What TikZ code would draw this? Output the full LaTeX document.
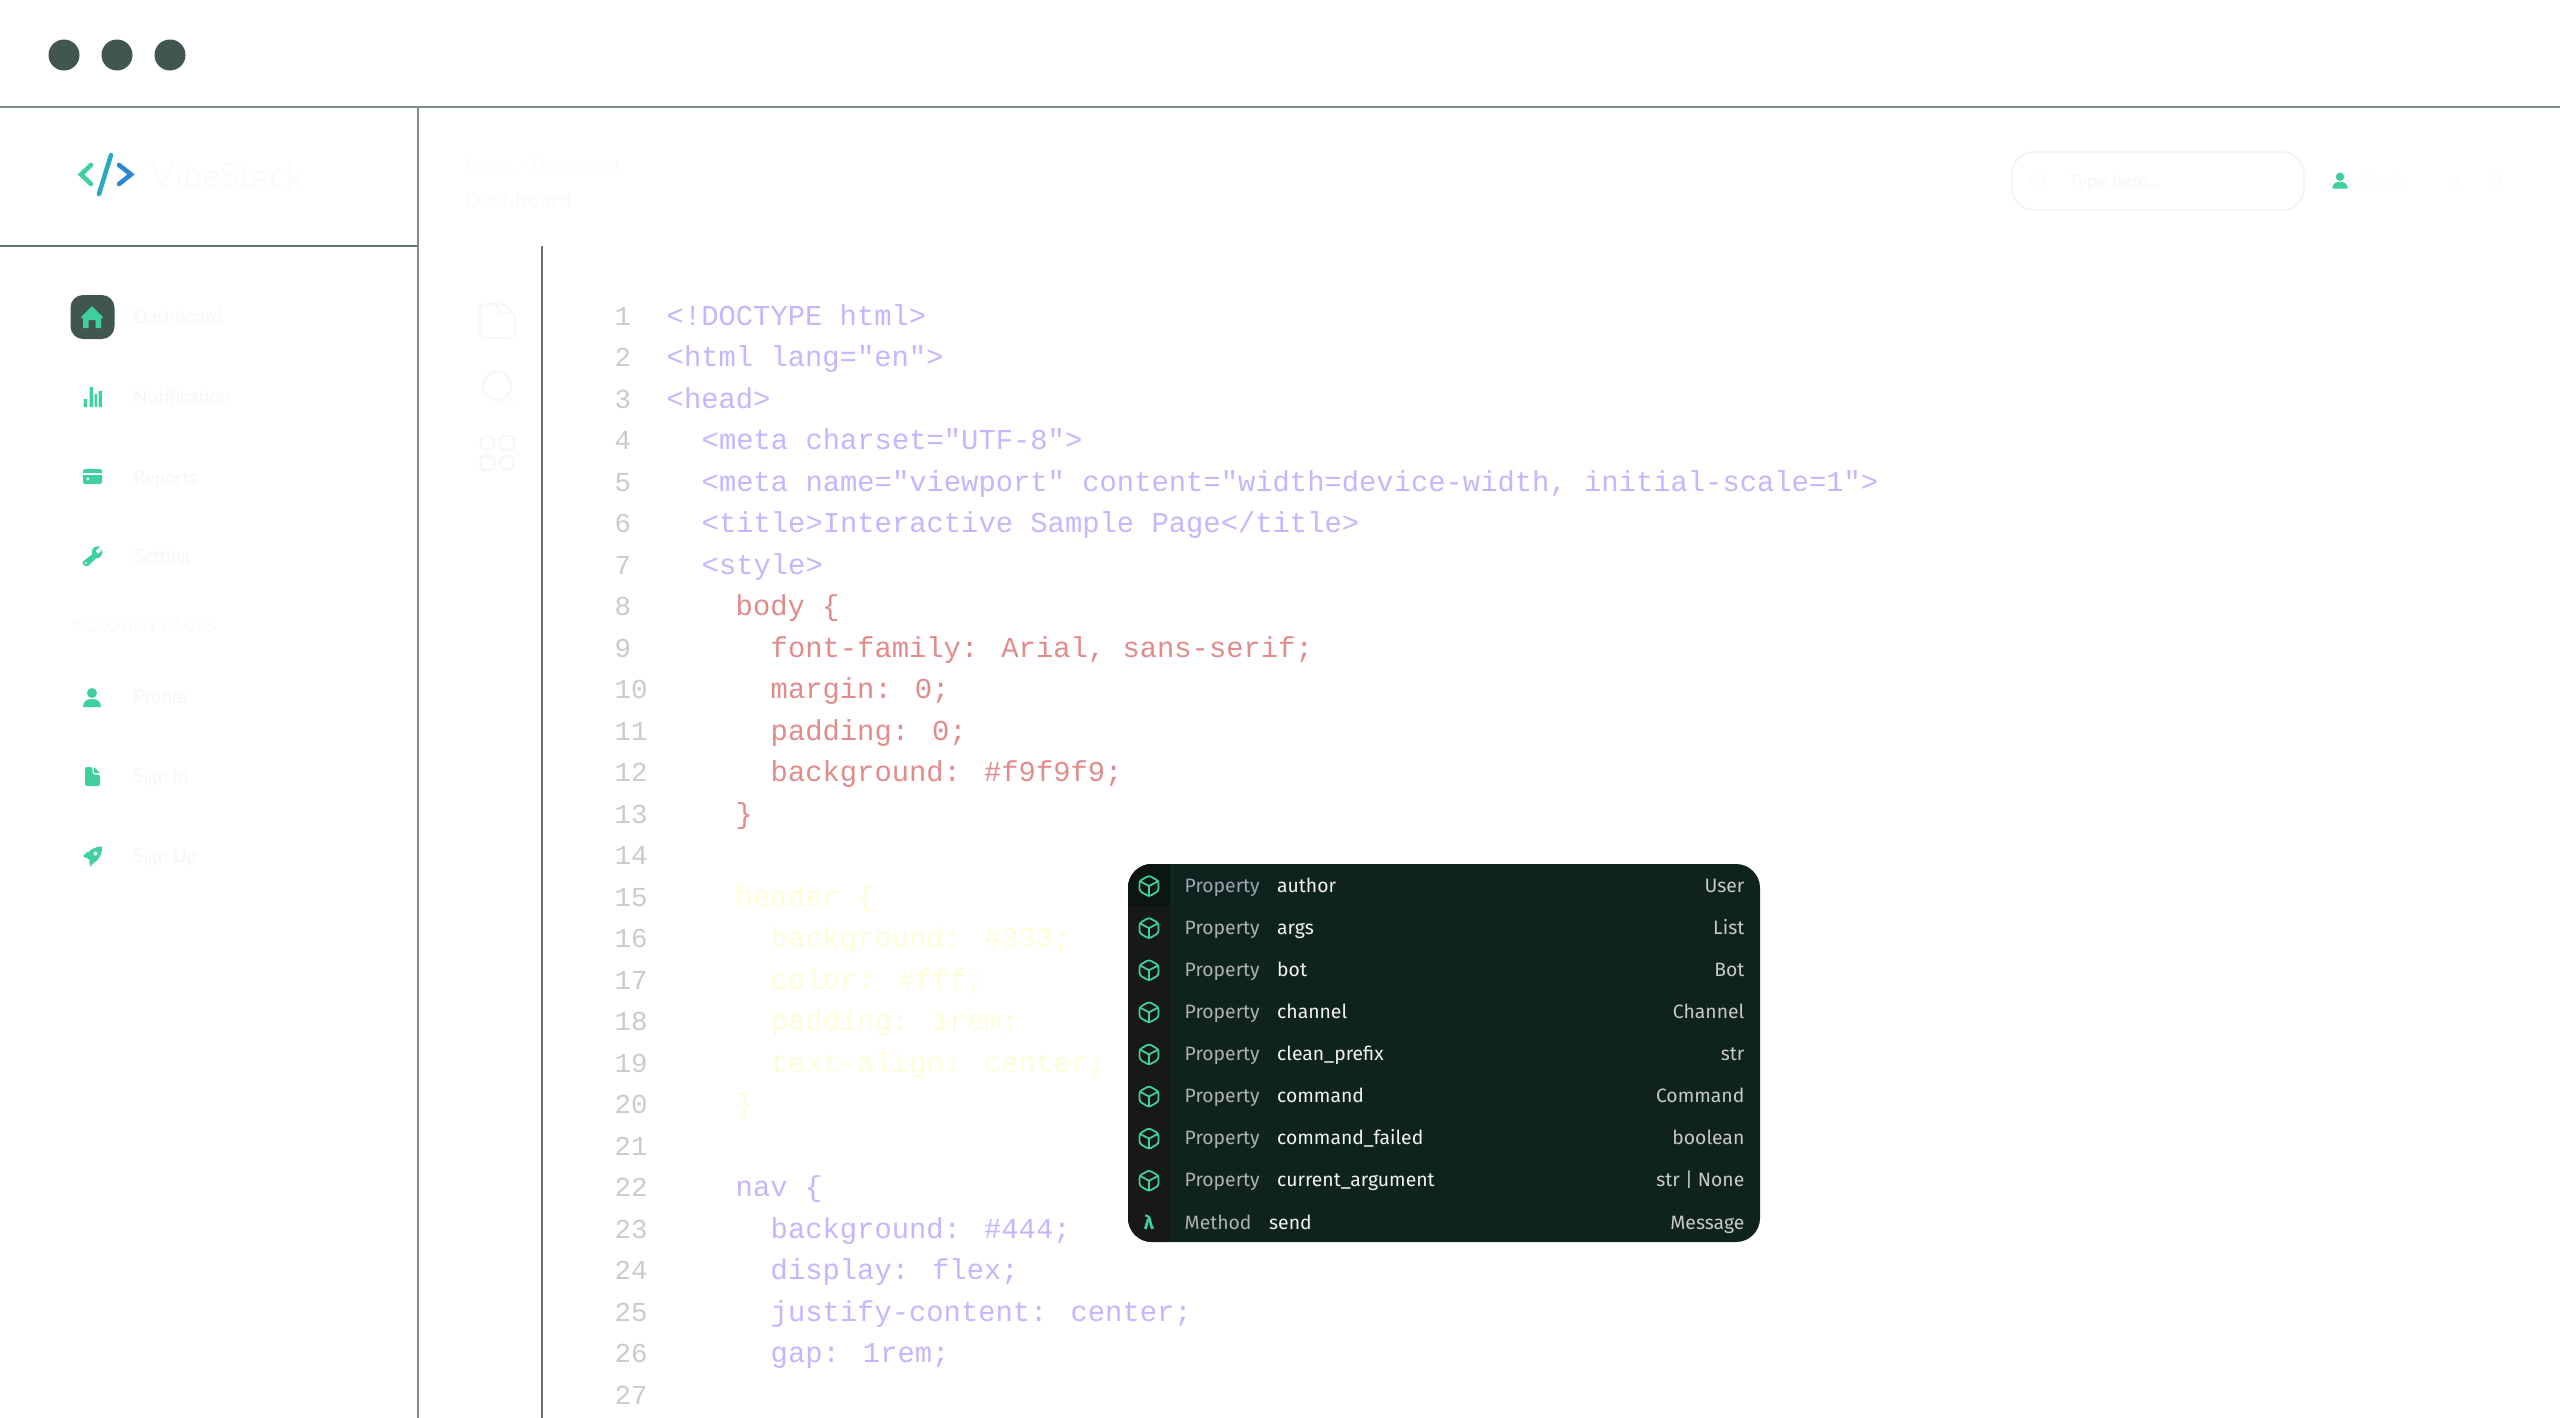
\documentclass[tikz,border=0pt]{standalone}
\usepackage{fontspec}
\setmainfont{Lato}
\newfontfamily\codefont{Liberation Mono}
\newfontfamily\popfont{Fira Sans}
\definecolor{dotgreen}{HTML}{41564F}
\definecolor{rulegrey}{HTML}{7F8C88}
\definecolor{ruledark}{HTML}{66756F}
\definecolor{mint}{HTML}{3FD0A0}
\definecolor{faint}{HTML}{F7F7F8}
\definecolor{fainter}{HTML}{FBFBFC}
\definecolor{numgrey}{HTML}{CBCBCB}
\definecolor{codepurple}{HTML}{C2B8FF}
\definecolor{codered}{HTML}{E28B8B}
\definecolor{codeyellow}{HTML}{FCFFD6}
\definecolor{popbg}{HTML}{0F231E}
\definecolor{popgutter}{HTML}{171818}
\definecolor{popgutterdark}{HTML}{0C1512}
\definecolor{popkindgrey}{HTML}{B0B0B0}
\definecolor{popkindblue}{HTML}{9AA5B5}
\definecolor{poptypegrey}{HTML}{C8C8C8}
\definecolor{logoteal}{HTML}{2BA9C4}
\definecolor{logoblue}{HTML}{2A86D0}
\definecolor{boxline}{HTML}{F0F2F6}
\tikzset{
  x=0.01cm,y=-0.01cm,
  frameline/.style={draw=rulegrey,line width=0.6pt},
  sidelabel/.style={anchor=base west,inner sep=0pt,text=faint,font=\fontsize{5.3}{6}\selectfont},
  headlabel/.style={anchor=base west,inner sep=0pt,text=fainter},
  linenum/.style={anchor=base west,inner sep=0pt,text=numgrey,font=\codefont\fontsize{7.8}{10}\selectfont},
  codeline/.style={anchor=base west,inner sep=0pt,font=\codefont\fontsize{8.2}{10}\selectfont},
  popkind/.style={anchor=base west,inner sep=0pt,text=popkindgrey,font=\popfont\fontsize{5.5}{7}\selectfont},
  popname/.style={anchor=base west,inner sep=0pt,text=white!95!black,font=\popfont\fontsize{5.5}{7}\selectfont},
  poptype/.style={anchor=base east,inner sep=0pt,text=poptypegrey,font=\popfont\fontsize{5.5}{7}\selectfont},
  cubeicon/.pic={
    \draw[mint,line width=0.5pt,rounded corners=0.7pt,line join=round]
      (0,-10.5) -- (9.5,-5) -- (9.5,5) -- (0,10.5) -- (-9.5,5) -- (-9.5,-5) -- cycle;
    \draw[mint,line width=0.5pt,line join=round]
      (-9.5,-5) -- (0,0) -- (9.5,-5) (0,0) -- (0,10.5);
  },
  personicon/.pic={
    \fill[mint] (0,-5) circle (5);
    \fill[mint] (-9,9) .. controls (-9,3) and (-5,1) .. (0,1) .. controls (5,1) and (9,3) .. (9,9) -- cycle;
  }
}
\begin{document}
\begin{tikzpicture}
\useasboundingbox (0,0) rectangle (2560,1418);
\fill[white] (0,0) rectangle (2560,1418);
\foreach \x in {64,117,170}
  \fill[dotgreen] (\x,55) circle (15.5);
\draw[frameline] (0,107) -- (2560,107);
\draw[frameline,draw=ruledark] (0,246) -- (418,246);
\draw[frameline] (418,107) -- (418,1418);
\draw[frameline,draw=ruledark] (542,246) -- (542,1418);

\draw[mint,line width=1.3pt,line cap=round,line join=miter] (91,165) -- (81,174.5) -- (91,184);
\draw[logoteal,line width=1.3pt,line cap=round] (111,155) -- (99,194);
\draw[logoblue,line width=1.3pt,line cap=round,line join=miter] (119,165) -- (131,174.5) -- (119,184);
\node[headlabel,font=\fontsize{10}{12}\selectfont] (brand) at (150,188) {VibeStack};

\node[headlabel,font=\fontsize{5.2}{6}\selectfont] (crumb) at (464,172) {Pages\,\,/\,\,Dashboard};
\node[headlabel,font=\fontsize{6.3}{8}\selectfont\bfseries] (title) at (464,208) {Dashboard};

\fill[dotgreen,rounded corners=3.6pt] (70.5,295) rectangle (114.5,339);
\fill[mint] (92,306) -- (103,317) -- (101,319) -- (101,328) -- (95.5,328) -- (95.5,320) -- (88.5,320) -- (88.5,328) -- (83,328) -- (83,319) -- (81,317) -- cycle;
\node[sidelabel] (navdash) at (133,323) {Dashboard};
\fill[mint] (83.5,399) rectangle (87,407) (89.5,387) rectangle (93,407) (94.5,394) rectangle (97,407) (98.5,391) rectangle (102,407);
\node[sidelabel] (navnote) at (133,403) {Notification};
\fill[mint,rounded corners=0.6pt] (83,469) rectangle (102,484);
\fill[white] (83,473) rectangle (102,474.5);
\fill[white] (88,479) circle (1.7);
\node[sidelabel] (navrep) at (133,484) {Reports};
\fill[mint] (92,551) .. controls (92,548) and (96,545.5) .. (100,546.5) -- (95.5,551) -- (98,554) -- (102.5,549.5) .. controls (103,555) and (100,558.5) .. (96,558.5) -- (88,566) .. controls (85,567) and (82,564) .. (83,561.5) -- (92,554.5) -- cycle;
\fill[white] (86,563) circle (1.2);
\node[sidelabel] (navset) at (133,562) {Setting};
\node[sidelabel,text=fainter,font=\fontsize{5}{6}\selectfont\bfseries] (navacc) at (71,632) {ACCOUNT PAGES};
\pic at (92,698) {personicon};
\node[sidelabel] (navpro) at (133,703) {Profile};
\fill[mint,rounded corners=0.6pt] (85,767) -- (92.5,767) -- (92.5,774.5) -- (100,774.5) -- (100,786) -- (85,786) -- cycle;
\fill[mint] (94,767) -- (100,773) -- (94,773) -- cycle;
\node[sidelabel] (navin) at (133,782) {Sign In};
\fill[mint] (102,846.5) .. controls (94,846.5) and (88,851) .. (85.5,856) -- (93,863.5) .. controls (99,860) and (102.5,854) .. (102,846.5) -- cycle;
\fill[mint] (88,851.5) -- (83,856) -- (87,858.5) -- cycle (96,859.5) -- (90.5,866.5) -- (89,861) -- cycle;
\fill[white] (95.5,853.5) circle (2);
\fill[white] (85,862) -- (87.5,860) -- (88,864.5) -- cycle;
\node[sidelabel] (navup) at (133,862) {Sign Up};

\draw[faint,line width=0.6pt,rounded corners=1.6pt] (480,304) -- (503,304) -- (515,315) -- (515,338) -- (480,338) -- cycle;
\draw[faint,line width=0.6pt,rounded corners=1pt] (496,304) -- (499,312) -- (515,314);
\draw[faint,line width=0.6pt] (497,386) circle (14) (507,396) -- (513,402);
\draw[faint,line width=0.6pt] (487.5,443) circle (7) (507,463) circle (7);
\draw[faint,line width=0.6pt,rounded corners=1pt] (500,436) rectangle (514,450) (480.5,456) rectangle (494.5,470);

\draw[boxline,line width=0.4pt,rounded corners=6.2pt] (2012,152) rectangle (2304,210);
\draw[fainter,line width=0.4pt] (2038,179) circle (7) (2043,185) -- (2048,190);
\node[headlabel,text=faint,font=\fontsize{5.2}{6}\selectfont] (typehere) at (2068,187) {Type here...};
\pic at (2340,181) [scale=0.85] {personicon};
\node[headlabel,font=\fontsize{5}{6}\selectfont] (signin) at (2357,187) {Sign In};
\draw[fainter,line width=0.4pt] (2453,182) circle (5);
\draw[fainter,line width=0.4pt] (2492,188) .. controls (2494,180) and (2494,174) .. (2497,174) .. controls (2500,174) and (2500,180) .. (2502,188) -- cycle;

\foreach \n [evaluate=\n as \y using {325+41.5*(\n-1)}] in {1,...,27}
  \node[linenum] (num\n) at (614,\y) {\n};

\node[codeline,codepurple] (code1) at (666,325) {<!DOCTYPE html>};
\node[codeline,codepurple] (code2) at (666,366.5) {<html lang="en">};
\node[codeline,codepurple] (code3) at (666,408) {<head>};
\node[codeline,codepurple] (code4) at (701,449.5) {<meta charset="UTF-8">};
\node[codeline,codepurple] (code5) at (701,491) {<meta name="viewport" content="width=device-width, initial-scale=1">};
\node[codeline,codepurple] (code6) at (701,532.5) {<title>Interactive Sample Page</title>};
\node[codeline,codepurple] (code7) at (701,574) {<style>};
\node[codeline,codered] (code8) at (735,615.5) {body \{};
\node[codeline,codered] (code9) at (770,657) {font-family: Arial, sans-serif;};
\node[codeline,codered] (code10) at (770,698.5) {margin: 0;};
\node[codeline,codered] (code11) at (770,740) {padding: 0;};
\node[codeline,codered] (code12) at (770,781.5) {background: \#f9f9f9;};
\node[codeline,codered] (code13) at (735,823) {\}};
\node[codeline,codeyellow] (code15) at (735,906) {header \{};
\node[codeline,codeyellow] (code16) at (770,947.5) {background: \#333;};
\node[codeline,codeyellow] (code17) at (770,989) {color: \#fff;};
\node[codeline,codeyellow] (code18) at (770,1030.5) {padding: 1rem;};
\node[codeline,codeyellow] (code19) at (770,1072) {text-align: center;};
\node[codeline,codeyellow] (code20) at (735,1113.5) {\}};
\node[codeline,codepurple] (code22) at (735,1196.5) {nav \{};
\node[codeline,codepurple] (code23) at (770,1238) {background: \#444;};
\node[codeline,codepurple] (code24) at (770,1279.5) {display: flex;};
\node[codeline,codepurple] (code25) at (770,1321) {justify-content: center;};
\node[codeline,codepurple] (code26) at (770,1362.5) {gap: 1rem;};

\fill[popbg,rounded corners=6.8pt] (1128,864) rectangle (1760,1242);
\begin{scope}
\clip[rounded corners=6.8pt] (1128,864) rectangle (1760,1242);
\fill[popgutter] (1128,864) rectangle (1170,1242);
\fill[popgutterdark] (1128,864) rectangle (1170,906);
\end{scope}
\pic at (1149,886) {cubeicon};
\node[popkind,text=popkindblue] (kind0) at (1184,892) {Property};
\node[popname] (name0) at (1276.5,892) {author};
\node[poptype] (type0) at (1745,892) {User};
\foreach \r/\nm/\ty [evaluate=\r as \y using {886+42.1*\r}, evaluate=\r as \b using {892+42.1*\r}] in {1/args/List,2/bot/Bot,3/channel/Channel,4/clean\_prefix/str,5/command/Command,6/command\_failed/boolean,7/current\_argument/{str | None}} {
  \pic at (1149,\y) {cubeicon};
  \node[popkind] (kind\r) at (1184,\b) {Property};
  \node[popname] (name\r) at (1276.5,\b) {\nm};
  \node[poptype] (type\r) at (1745,\b) {\ty};
}
\node[anchor=base,text=mint,inner sep=0pt,font=\popfont\fontsize{5.5}{7}\selectfont\bfseries] (lambda) at (1149,1229) {λ};
\node[popkind] (kind8) at (1184,1229) {Method};
\node[popname] (name8) at (1268.5,1229) {send};
\node[poptype] (type8) at (1745,1229) {Message};
\end{tikzpicture}
\end{document}
